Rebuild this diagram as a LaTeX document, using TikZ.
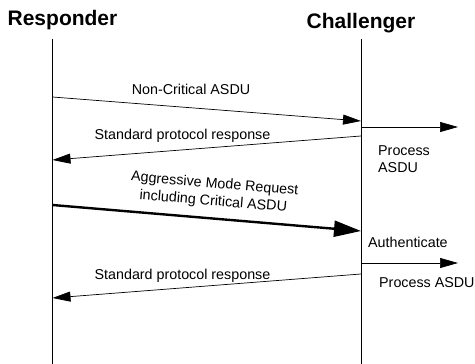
\documentclass[tikz,border=0pt]{standalone}
\usepackage{fontspec}
\setmainfont{Liberation Sans}
\usetikzlibrary{arrows.meta}
\tikzset{
  actor/.style={font=\bfseries\fontsize{21}{23}\selectfont, inner sep=0pt},
  lbl/.style={font=\fontsize{14.3}{17.6}\selectfont, inner sep=0pt},
  lifeline/.style={line width=0.7pt},
  msg/.style={line width=0.7pt, -{Triangle[length=18pt,width=10pt]}},
  critmsg/.style={line width=2.4pt, -{Triangle[length=27pt,width=16pt]}}
}
\begin{document}
\begin{tikzpicture}[x=1pt,y=-1pt]
\useasboundingbox (0,0) rectangle (475,364);

\def\xr{52.5} % responder
\def\xc{361}  % challenger
\def\xo{458}  % end of local steps

% actors and life lines
\node[actor, anchor=base] (resp) at (62.5,26) {Responder};
\node[actor, anchor=base] (chal) at (\xc,28.5) {Challenger};
\coordinate (rtop) at (\xr,39);
\coordinate (rbot) at (\xr,364);
\coordinate (ctop) at (\xc,39);
\coordinate (cbot) at (\xc,364);
\draw[lifeline] (rtop) -- (rbot);
\draw[lifeline] (ctop) -- (cbot);

% message end points
\coordinate (m1a) at (\xr,97);  \coordinate (m1b) at (\xc,121);
\coordinate (p1a) at (\xc,127); \coordinate (p1b) at (\xo,127);
\coordinate (s1a) at (\xc,136); \coordinate (s1b) at (\xr,160);
\coordinate (a1a) at (\xr,205); \coordinate (a1b) at (\xc,231);
\coordinate (p2a) at (\xc,263); \coordinate (p2b) at (\xo,263);
\coordinate (s2a) at (\xc,274); \coordinate (s2b) at (\xr,298);

% non critical
\draw[msg] (m1a) -- (m1b);
\node[lbl, anchor=base] (m1lbl) at (191,95) {Non-Critical ASDU};
\draw[msg] (p1a) -- (p1b);
\node[lbl, anchor=north west, align=left] (p1lbl) at (378,145) {Process\\ASDU};
\draw[msg] (s1a) -- (s1b);
\node[lbl, anchor=base] (s1lbl) at (182.5,139.5) {Standard protocol response};

% critical
\draw[critmsg] (a1a) -- (a1b);
\node[lbl, align=center, rotate=-4.8] (a1lbl) at (214,193)
  {Aggressive Mode Request\\including Critical ASDU};
\node[lbl, anchor=base west] (authlbl) at (368,247) {Authenticate};
\draw[msg] (p2a) -- (p2b);
\node[lbl, anchor=base west] (p2lbl) at (379,287.5) {Process ASDU};
\draw[msg] (s2a) -- (s2b);
\node[lbl, anchor=base] (s2lbl) at (182.5,279) {Standard protocol response};

\end{tikzpicture}
\end{document}
